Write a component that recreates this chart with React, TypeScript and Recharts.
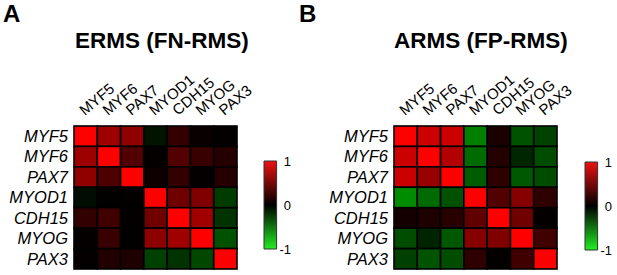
import React from 'react'
import { ScatterChart, Scatter, XAxis, YAxis, BarChart, Bar } from 'recharts'

const genes = ['MYF5', 'MYF6', 'PAX7', 'MYOD1', 'CDH15', 'MYOG', 'PAX3']

// correlation matrices, rows/cols in genes order
const ermsCorr = [
  [1, 0.62, 0.57, -0.08, 0.2, 0.03, 0.02],
  [0.62, 1, 0.32, 0.02, 0.32, 0.22, 0.15],
  [0.57, 0.3, 1, 0.06, 0.2, 0.02, 0.15],
  [-0.05, 0.01, 0.01, 1, 0.44, 0.5, -0.23],
  [0.2, 0.25, 0.02, 0.44, 1, 0.63, -0.2],
  [0.02, 0.22, 0.01, 0.55, 0.63, 1, -0.32],
  [0.02, 0.13, 0.12, -0.25, -0.2, -0.28, 1],
]

const armsCorr = [
  [1, 0.8, 0.8, -0.5, 0.1, -0.32, -0.26],
  [0.8, 1, 0.7, -0.42, 0.14, -0.15, -0.3],
  [0.8, 0.6, 1, -0.36, 0.18, -0.35, -0.3],
  [-0.55, -0.42, -0.32, 1, 0.32, 0.53, 0.18],
  [0.08, 0.12, 0.16, 0.38, 1, 0.44, 0.02],
  [-0.3, -0.14, -0.35, 0.53, 0.5, 1, 0.25],
  [-0.25, -0.33, -0.3, 0.18, 0.02, 0.25, 1],
]

const scaleTicks = [-1, 0, 1]
const scaleData = [{ name: 'r', range: [-1, 1] }]

const FONT = 'Arial, "Liberation Sans", Helvetica, sans-serif'
const CHART_H = 275
const MARGIN_TOP = 66
const X_AXIS_H = 60
const Y_AXIS_W = 74
const MARGIN_BOTTOM = 6

function corrColor(v: number) {
  if (v >= 0) return `rgb(${Math.round(255 * v)},0,0)`
  return `rgb(0,${Math.round(255 * -v)},0)`
}

function ColTick({ x, y, payload }: any) {
  const tx = x - 1
  const ty = y - 10
  return (
    <text x={tx} y={ty} transform={`rotate(-40 ${tx} ${ty})`} textAnchor="start"
      fontSize={15} fontFamily={FONT} fill="#000">
      {genes[payload.value]}
    </text>
  )
}

function RowTick({ x, y, payload }: any) {
  return (
    <text x={x - 6} y={y} dy="0.35em" textAnchor="end" fontSize={16.5}
      fontStyle="italic" fontFamily={FONT} fill="#000">
      {genes[payload.value]}
    </text>
  )
}

function Heatmap({ matrix, width, marginRight }: { matrix: number[][]; width: number; marginRight: number }) {
  const n = genes.length
  const plotW = width - Y_AXIS_W - marginRight
  const plotH = CHART_H - MARGIN_TOP - X_AXIS_H - MARGIN_BOTTOM
  const cw = plotW / n
  const ch = plotH / n
  const data = matrix.flatMap((row, r) => row.map((v, c) => ({ col: c, row: r, v })))
  const idx = genes.map((_, i) => i)

  const cellShape = (p: any) => (
    <rect x={p.cx - cw / 2} y={p.cy - ch / 2} width={cw} height={ch}
      fill={corrColor(p.payload.v)} stroke="#000" strokeWidth={1.6} />
  )

  return (
    <ScatterChart width={width} height={CHART_H}
      margin={{ top: MARGIN_TOP, right: marginRight, bottom: MARGIN_BOTTOM, left: 0 }}>
      <XAxis type="number" dataKey="col" orientation="top" domain={[-0.5, n - 0.5]} ticks={idx}
        interval={0} height={X_AXIS_H} axisLine={false} tickLine={false} tickSize={0} tickMargin={0}
        tick={<ColTick />} />
      <YAxis type="number" dataKey="row" domain={[-0.5, n - 0.5]} ticks={idx} reversed
        interval={0} width={Y_AXIS_W} axisLine={false} tickLine={false} tickSize={0} tickMargin={0}
        tick={<RowTick />} />
      <Scatter data={data} shape={cellShape} isAnimationActive={false} />
    </ScatterChart>
  )
}

function ScaleTick({ x, y, payload }: any) {
  return (
    <text x={x + 14} y={y} dy="0.35em" textAnchor="end" fontSize={13} fontFamily={FONT} fill="#000">
      {payload.value}
    </text>
  )
}

function ColorBar({ id }: { id: string }) {
  return (
    <BarChart width={50} height={110} data={scaleData} barCategoryGap={0}
      margin={{ top: 11, right: 0, bottom: 11, left: 13 }}>
      <defs>
        <linearGradient id={id} x1="0" y1="0" x2="0" y2="1">
          <stop offset="0%" stopColor="#ee1111" />
          <stop offset="50%" stopColor="#000000" />
          <stop offset="100%" stopColor="#22ee22" />
        </linearGradient>
      </defs>
      <XAxis dataKey="name" hide />
      <YAxis orientation="right" domain={[-1, 1]} ticks={scaleTicks} width={23}
        axisLine={false} tickLine={false} tickSize={0} tickMargin={0} tick={<ScaleTick />} />
      <Bar dataKey="range" fill={`url(#${id})`} stroke="#333" strokeWidth={1}
        barSize={14} isAnimationActive={false} />
    </BarChart>
  )
}

export default function App() {
  return (
    <div style={{ position: 'absolute', left: 0, top: 0, width: 617, height: 275, background: '#fff', fontFamily: FONT }}>
      <svg width={617} height={275} style={{ position: 'absolute', left: 0, top: 0 }}>
        <text x={3} y={22} fontSize={24} fontWeight="bold" fontFamily={FONT}>A</text>
        <text x={299} y={22} fontSize={24} fontWeight="bold" fontFamily={FONT}>B</text>
        <text x={75} y={48} fontSize={22.5} fontWeight="bold" fontFamily={FONT}>ERMS (FN-RMS)</text>
        <text x={394} y={48} fontSize={22.5} fontWeight="bold" fontFamily={FONT}>ARMS (FP-RMS)</text>
      </svg>
      <div style={{ position: 'absolute', left: 0, top: 0 }}>
        <Heatmap matrix={ermsCorr} width={300} marginRight={63} />
      </div>
      <div style={{ position: 'absolute', left: 320, top: 0 }}>
        <Heatmap matrix={armsCorr} width={297} marginRight={60} />
      </div>
      <div style={{ position: 'absolute', left: 250, top: 150 }}>
        <ColorBar id="scaleA" />
      </div>
      <div style={{ position: 'absolute', left: 571, top: 151 }}>
        <ColorBar id="scaleB" />
      </div>
    </div>
  )
}
